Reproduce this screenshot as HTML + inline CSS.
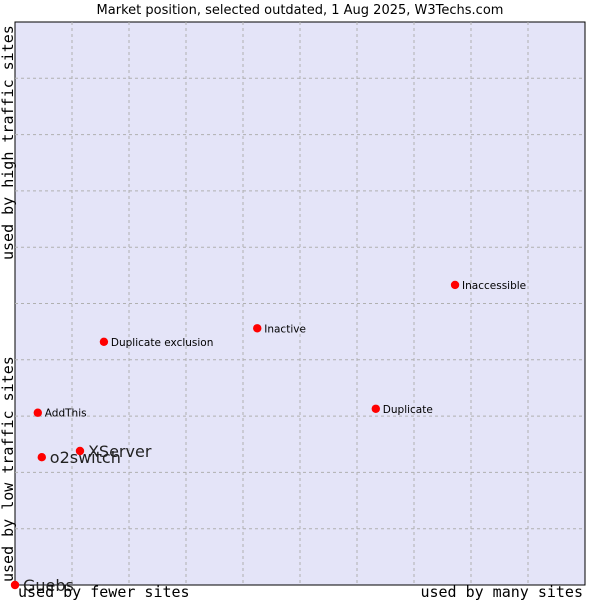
<!DOCTYPE html>
<html><head><meta charset="utf-8"><style>
body{margin:0;background:#fff;width:600px;height:600px;overflow:hidden}
svg{display:block}
</style></head><body>
<svg id="chart" width="600" height="600" xmlns="http://www.w3.org/2000/svg">
<text x="300" y="14" text-anchor="middle" font-family="DejaVu Sans, sans-serif" font-size="13" fill="#000">Market position, selected outdated, 1 Aug 2025, W3Techs.com</text>
<rect x="15" y="22" width="570" height="563" fill="#e4e4f8" stroke="#000" stroke-width="1"/>
<g id="grid"></g>
<g id="points"></g>
<text x="18" y="597" font-family="DejaVu Sans Mono, monospace" font-size="15" fill="#000">used by fewer sites</text>
<text x="583" y="597" text-anchor="end" font-family="DejaVu Sans Mono, monospace" font-size="15" fill="#000">used by many sites</text>
<text transform="translate(13,582) rotate(-90)" font-family="DejaVu Sans Mono, monospace" font-size="15" fill="#000">used by low traffic sites</text>
<text transform="translate(13,260) rotate(-90)" font-family="DejaVu Sans Mono, monospace" font-size="15" fill="#000">used by high traffic sites</text>
</svg>
<script>
const names = ["Guebs","o2switch","XServer","AddThis","Duplicate exclusion","Inactive","Duplicate","Inaccessible"];
const xValues = [0, 4.7, 11.4, 4.0, 15.6, 42.5, 63.3, 77.2];
const yValues = [0, 22.7, 23.8, 30.6, 43.2, 45.6, 31.3, 53.3];
const bigLabel = [true, true, true, false, false, false, false, false];
const L=15,T=22,W=570,H=563;
const xs=v=>L+v/100*W, ys=v=>T+H-v/100*H;
const NS="http://www.w3.org/2000/svg";
const g=document.getElementById('grid'), p=document.getElementById('points');
for(let i=1;i<10;i++){
  const v=document.createElementNS(NS,'line');
  
  
  v.setAttribute('x1',xs(i*10));v.setAttribute('x2',xs(i*10));v.setAttribute('y1',T);v.setAttribute('y2',T+H);
  v.setAttribute('stroke','#b0b0b0');v.setAttribute('stroke-dasharray','3,3');g.appendChild(v);
  const h=document.createElementNS(NS,'line');
  
  
  h.setAttribute('y1',ys(i*10));h.setAttribute('y2',ys(i*10));h.setAttribute('x1',L);h.setAttribute('x2',L+W);
  h.setAttribute('stroke','#b0b0b0');h.setAttribute('stroke-dasharray','3,3');g.appendChild(h);
}
names.forEach((n,i)=>{
  const cx=xs(xValues[i]), cy=ys(yValues[i]);
  const c=document.createElementNS(NS,'circle');
  
  
  c.setAttribute('cx',cx);c.setAttribute('cy',cy);c.setAttribute('r',4.2);c.setAttribute('fill','#ff0000');
  p.appendChild(c);
  const t=document.createElementNS(NS,'text');
  
  
  const big=bigLabel[i];
  t.setAttribute('x',cx+(big?8:7));t.setAttribute('y',cy+(big?6:4));
  t.setAttribute('font-family','DejaVu Sans, sans-serif');
  t.setAttribute('font-size',big?16:10.5);
  t.setAttribute('fill', big?'#222':'#000');
  t.textContent=n;p.appendChild(t);
});
</script>
</body></html>
